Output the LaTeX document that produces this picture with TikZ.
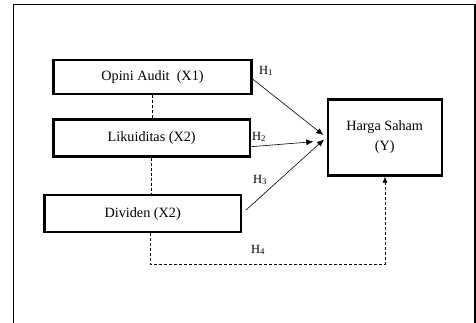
\documentclass[tikz,border=0pt]{standalone}
\usepackage{fontspec}
\setmainfont{Liberation Serif}
\usetikzlibrary{arrows.meta}
\begin{document}
\begin{tikzpicture}[x=1pt,y=-1pt,
  varbox/.style={draw=black,line width=2.2pt,inner sep=0pt,font=\fontsize{14.2}{20}\selectfont,align=center},
  hyp/.style={font=\fontsize{12.5}{13}\selectfont,inner sep=0pt},
  arr/.style={line width=0.6pt,-{Latex[length=7pt,width=6pt]}},
  dline/.style={line width=0.7pt,dash pattern=on 3pt off 2pt}]
\useasboundingbox (0,0) rectangle (476,322);
\draw[line width=1.8pt] (13.5,330) -- (13.5,4.5) -- (475,4.5) -- (475,330);
\node[varbox,minimum width=198pt,minimum height=34pt] (x1) at (152.5,77.2) {Opini Audit\ \ (X1)};
\node[varbox,minimum width=196.5pt,minimum height=37pt] (x2) at (151.7,138) {Likuiditas (X2)};
\node[varbox,minimum width=196.5pt,minimum height=37pt] (x3) at (142.7,213.8) {Dividen (X2)};
\node[varbox,minimum width=114pt,minimum height=76pt] (y) at (384.7,137.5) {Harga Saham\\(Y)};
\draw[dline] (x1.south -| 152.3,0) -- (x2.north -| 152.3,0);
\draw[dline] (x2.south -| 151.7,0) -- (x3.north -| 151.7,0);
\coordinate (c1) at (150,264.3);
\coordinate (c2) at (385,264.3);
\draw[dline,-{Latex[length=6pt,width=5pt]}] (x3.south -| c1) -- (c1) -- (c2) -- (y.south -| c2);
\draw[arr] (x1.east |- 0,79) -- (323.3,135);
\draw[arr] (x2.east |- 0,146.7) -- (313.3,141.7);
\draw[arr] ([xshift=4pt]x3.east |- 0,210) -- (324,139.5);
\node[hyp] (h1) at (266,71) {H\textsubscript{1}};
\node[hyp] (h2) at (259,137) {H\textsubscript{2}};
\node[hyp] (h3) at (260,180) {H\textsubscript{3}};
\node[hyp] (h4) at (258,250) {H\textsubscript{4}};
\end{tikzpicture}
\end{document}
